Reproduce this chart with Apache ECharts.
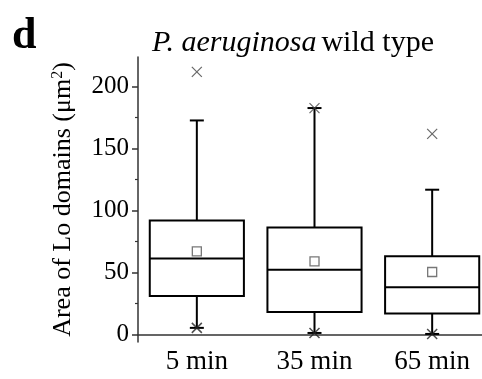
<!DOCTYPE html>
<html><head><meta charset="utf-8">
<script src="https://cdn.jsdelivr.net/npm/echarts@6/dist/echarts.min.js"></script>
<style>html,body{margin:0;padding:0;background:#fff}#c{width:482px;height:379px}</style>
</head><body><div id="c"></div>
<script>
const categories = ['5 min', '35 min', '65 min'];
const whiskerLow = [5.4, 1.3, 0.5];
const q1 = [31.2, 18.3, 16.9];
const median = [61.3, 52.4, 38.2];
const q3 = [92, 86.5, 63.2];
const whiskerHigh = [172.8, 182.8, 116.9];
const means = [67.2, 59.1, 50.5];
const minMarks = [5.4, 1.3, 0.5];
const maxMarks = [212, 182.8, 162];
const yTicks = [0, 50, 100, 150, 200];
const yMinorTicks = [25, 75, 125, 175];

const FONT = '"Liberation Serif", "Times New Roman", serif';
const boxData = categories.map((c, i) => [i, whiskerLow[i], q1[i], median[i], q3[i], whiskerHigh[i]]);

const chart = echarts.init(document.getElementById('c'), null, {renderer: 'canvas'});
const xPath = 'path://M0,0L10,10M10,0L0,10';
chart.setOption({
  animation: false,
  backgroundColor: '#fff',
  title: {
    text: '{i|P. aeruginosa} {n|wild type}',
    left: 147, top: 23,
    textStyle: {
      fontWeight: 'normal',
      rich: {
        i: {fontFamily: FONT, fontSize: 30, fontStyle: 'italic', fontWeight: 'normal', color: '#000'},
        n: {fontFamily: FONT, fontSize: 30, fontWeight: 'normal', color: '#000'}
      }
    }
  },
  graphic: [{
    type: 'text', left: 12, top: 15,
    style: {text: 'd', font: 'bold 44px "Liberation Serif"', fill: '#000'}
  }],
  grid: {left: 138, top: 57, bottom: 37, width: 353, outerBoundsMode: 'none', containLabel: false},
  xAxis: {
    type: 'category', data: categories, boundaryGap: true,
    axisLine: {lineStyle: {color: '#333', width: 1.5}},
    axisTick: {alignWithLabel: true, length: 5, lineStyle: {color: '#333', width: 1.5}},
    axisLabel: {fontFamily: FONT, fontSize: 27, color: '#000', margin: 6}
  },
  yAxis: [{
    type: 'value', min: -6, max: 224,
    name: '{a|Area of Lo domains (μm}{s|2}{a|)}',
    nameLocation: 'middle', nameGap: 62,
    nameTextStyle: {rich: {
      a: {fontFamily: FONT, fontSize: 26, color: '#000'},
      s: {fontFamily: FONT, fontSize: 16, color: '#000', verticalAlign: 'top', padding: [0, 0, 10, 0]}
    }},
    splitLine: {show: false},
    axisLine: {show: true, lineStyle: {color: '#333', width: 1.5}},
    axisTick: {show: true, length: 6, customValues: yTicks, lineStyle: {color: '#333', width: 1.5}},
    axisLabel: {fontFamily: FONT, fontSize: 25, color: '#000', margin: 9, customValues: yTicks}
  }, {
    type: 'value', min: -6, max: 224, position: 'left',
    splitLine: {show: false},
    axisLine: {show: false},
    axisTick: {show: true, length: 3, customValues: yMinorTicks, lineStyle: {color: '#333', width: 1.2}},
    axisLabel: {show: false, customValues: yMinorTicks}
  }],
  series: [{
    type: 'custom',
    data: boxData,
    renderItem: function (params, api) {
      const i = api.value(0);
      const band = api.size([1, 0])[0];
      const hw = band * 0.4;
      const cw = 7;
      const pLow = api.coord([i, api.value(1)]);
      const pQ1 = api.coord([i, api.value(2)]);
      const pMed = api.coord([i, api.value(3)]);
      const pQ3 = api.coord([i, api.value(4)]);
      const pHigh = api.coord([i, api.value(5)]);
      const x = pQ1[0];
      const st = {stroke: '#000', lineWidth: 2, fill: null};
      return {type: 'group', children: [
        {type: 'rect', shape: {x: x - hw, y: pQ3[1], width: hw * 2, height: pQ1[1] - pQ3[1]}, style: {stroke: '#000', lineWidth: 2, fill: 'none'}},
        {type: 'line', shape: {x1: x - hw, y1: pMed[1], x2: x + hw, y2: pMed[1]}, style: st},
        {type: 'line', shape: {x1: x, y1: pQ3[1], x2: x, y2: pHigh[1]}, style: st},
        {type: 'line', shape: {x1: x, y1: pQ1[1], x2: x, y2: pLow[1]}, style: st},
        {type: 'line', shape: {x1: x - cw, y1: pHigh[1], x2: x + cw, y2: pHigh[1]}, style: st},
        {type: 'line', shape: {x1: x - cw, y1: pLow[1], x2: x + cw, y2: pLow[1]}, style: st}
      ]};
    }
  }, {
    type: 'scatter', data: means.map((v, i) => [i, v]),
    symbol: 'rect', symbolSize: 9,
    itemStyle: {color: '#fff', borderColor: '#555', borderWidth: 1.3}, z: 5
  }, {
    type: 'scatter', data: minMarks.map((v, i) => [i, v]),
    symbol: xPath, symbolSize: 10,
    itemStyle: {color: 'none', borderColor: '#222', borderWidth: 1.5}, z: 5
  }, {
    type: 'scatter', data: maxMarks.map((v, i) => [i, v]),
    symbol: xPath, symbolSize: 10,
    itemStyle: {color: 'none', borderColor: '#444', borderWidth: 1.2}, z: 5
  }]
});
</script></body></html>
